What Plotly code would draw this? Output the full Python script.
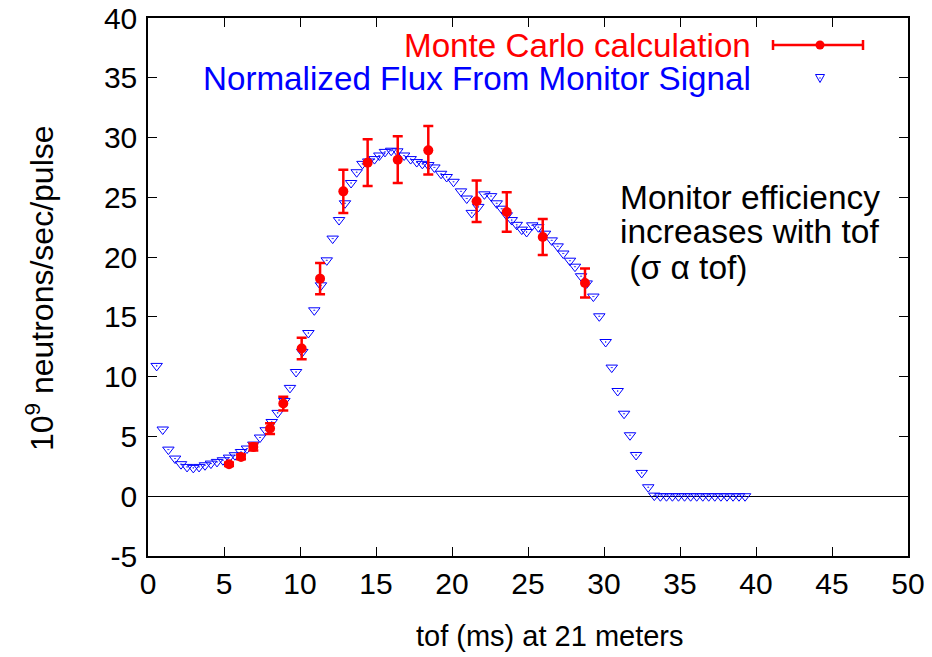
import plotly.graph_objects as go

# Normalized flux derived from the beam monitor signal (10^9 n/s/pulse)
flux_tof = [0.57, 0.97, 1.34, 1.78, 2.17, 2.57, 2.98, 3.36, 3.75, 4.14,
            4.54, 4.93, 5.33, 5.72, 6.12, 6.51, 6.93, 7.37, 7.74, 8.14,
            8.53, 8.97, 9.34, 9.74, 10.15, 10.55, 10.94, 11.38, 11.76, 12.15,
            12.57, 12.96, 13.36, 13.73, 14.11, 14.49, 14.90, 15.22, 15.59, 16.00,
            16.40, 16.85, 17.28, 17.68, 18.05, 18.44, 18.84, 19.28, 19.65, 20.10,
            20.59, 20.97, 21.30, 21.73, 22.13, 22.57, 22.94, 23.27, 23.60, 23.93,
            24.26, 24.59, 24.91, 25.28, 25.68, 26.12, 26.56, 26.95, 27.32, 27.76,
            28.09, 28.49, 28.86, 29.30, 29.69, 30.11, 30.51, 30.90, 31.32, 31.71,
            32.11, 32.48, 32.91, 33.31, 33.71, 34.11, 34.50, 34.90, 35.30, 35.70,
            36.10, 36.50, 36.89, 37.29, 37.69, 38.09, 38.49, 38.88, 39.28]
flux_val = [10.9, 5.58, 3.9, 3.15, 2.68, 2.45, 2.37, 2.45, 2.59, 2.73,
            2.87, 3.01, 3.23, 3.43, 3.70, 3.99, 4.32, 4.91, 5.52, 6.21,
            6.97, 7.97, 9.06, 10.39, 12.07, 13.65, 15.55, 17.64, 19.73, 21.55,
            23.1, 24.5, 26.2, 27.1, 27.8, 28.0, 28.2, 28.5, 28.8, 28.9,
            28.85, 28.5, 28.2, 27.95, 27.8, 27.7, 27.5, 26.97, 26.7, 26.3,
            25.5, 24.9, 23.7, 24.2, 25.25, 25.1, 24.5, 24.05, 23.5, 23.1,
            22.7, 22.3, 22.1, 22.66, 22.5, 21.96, 21.4, 20.9, 20.3, 19.7,
            19.2, 18.4, 17.8, 16.7, 15.05, 12.9, 10.76, 8.8, 6.9, 5.1,
            3.45, 1.95, 0.75, 0.05, 0.0, 0.0, 0.0, 0.0, 0.0, 0.0,
            0.0, 0.0, 0.0, 0.0, 0.0, 0.0, 0.0, 0.0, 0.0]

# Monte Carlo calculation with statistical uncertainty
mc_tof = [5.33, 6.12, 6.93, 8.03, 8.90, 10.11, 11.32, 12.85, 14.45, 16.43,
          18.44, 21.62, 23.60, 25.97, 28.75]
mc_val = [2.68, 3.29, 4.12, 5.66, 7.75, 12.35, 18.2, 25.5, 27.9, 28.15,
          28.93, 24.67, 23.77, 21.68, 17.83]
mc_err = [0.15, 0.2, 0.3, 0.45, 0.58, 0.9, 1.31, 1.8, 1.95, 1.95,
          2.03, 1.74, 1.65, 1.5, 1.21]

x_ticks = [0, 5, 10, 15, 20, 25, 30, 35, 40, 45, 50]
y_ticks = [-5, 0, 5, 10, 15, 20, 25, 30, 35, 40]

FONT = "Liberation Sans, Arial, Helvetica, sans-serif"
RED = "#ff0000"
BLUE = "#0000ff"

fig = go.Figure()

fig.add_trace(go.Scatter(
    x=flux_tof, y=flux_val, mode="markers",
    name="Normalized Flux From Monitor Signal",
    marker=dict(symbol="triangle-down-open-dot", size=10, color=BLUE,
                line=dict(width=1, color=BLUE)),
    showlegend=False,
))

fig.add_trace(go.Scatter(
    x=mc_tof, y=mc_val, mode="markers",
    name="Monte Carlo calculation",
    marker=dict(symbol="circle", size=10, color=RED),
    error_y=dict(type="data", array=mc_err, visible=True, color=RED,
                 thickness=2.5, width=5),
    showlegend=False,
))

W, H = 932, 657
L, R, T, B = 148, 24, 18, 101
pw, ph = W - L - R, H - T - B


def px(xp):
    return (xp - L) / pw


def py(yp):
    return (H - B - yp) / ph


shapes = []
# key sample for the Monte Carlo series: bar with end caps and a dot
ky = py(45)
cap = 5 / ph
shapes.append(dict(type="line", xref="paper", yref="paper", x0=px(773), x1=px(863),
                   y0=ky, y1=ky, line=dict(color=RED, width=2.5)))
for xe in (773, 863):
    shapes.append(dict(type="line", xref="paper", yref="paper", x0=px(xe), x1=px(xe),
                       y0=ky - cap, y1=ky + cap, line=dict(color=RED, width=2.5)))
r = 4.5
shapes.append(dict(type="circle", xref="paper", yref="paper",
                   x0=px(820 - r), x1=px(820 + r), y0=py(45 + r), y1=py(45 - r),
                   fillcolor=RED, line=dict(color=RED, width=0)))
# key sample for the monitor flux: open down-pointing triangle with centre dot
tx, ty = 820, 78
shapes.append(dict(type="path", xref="paper", yref="paper",
                   path=(f"M {px(tx - 4.5)} {py(ty - 3.5)} L {px(tx + 4.5)} {py(ty - 3.5)} "
                         f"L {px(tx)} {py(ty + 4.5)} Z"),
                   line=dict(color=BLUE, width=1)))
shapes.append(dict(type="circle", xref="paper", yref="paper",
                   x0=px(tx - 0.7), x1=px(tx + 0.7), y0=py(ty + 0.7), y1=py(ty - 0.7),
                   fillcolor=BLUE, line=dict(color=BLUE, width=0)))

annotations = [
    dict(text="Monte Carlo calculation", xref="paper", yref="paper",
         x=px(753), y=py(45), xanchor="right", yanchor="middle", showarrow=False,
         font=dict(family=FONT, size=33.2, color=RED)),
    dict(text="Normalized Flux From Monitor Signal", xref="paper", yref="paper",
         x=px(753), y=py(79), xanchor="right", yanchor="middle", showarrow=False,
         font=dict(family=FONT, size=33.2, color=BLUE)),
    # axis titles
    dict(text="tof (ms) at 21 meters", xref="paper", yref="paper",
         x=px(550), y=py(636), xanchor="center", yanchor="middle", showarrow=False,
         font=dict(family=FONT, size=29, color="black")),
    dict(text="10<sup>9</sup> neutrons/sec/pulse", xref="paper", yref="paper",
         x=px(40), y=py(288), xanchor="center", yanchor="middle", showarrow=False,
         textangle=-90, font=dict(family=FONT, size=32, color="black")),
]
for line_txt, yc in (("Monitor efficiency", 197), ("increases with tof", 232),
                     (" (\u03c3 \u03b1 tof)", 267)):
    annotations.append(dict(text=line_txt, xref="paper", yref="paper",
                            x=px(618), y=py(yc), xanchor="left", yanchor="middle",
                            showarrow=False,
                            font=dict(family=FONT, size=33.5, color="black")))

fig.update_layout(
    width=W, height=H,
    margin=dict(l=L, r=R, t=T, b=B, pad=0),
    paper_bgcolor="white", plot_bgcolor="white",
    font=dict(family=FONT, size=30, color="black"),
    shapes=shapes, annotations=annotations,
    showlegend=False,
)

fig.update_xaxes(
    range=[0, 50], tickvals=x_ticks, ticktext=[str(v) for v in x_ticks],
    ticks="inside", ticklen=9, tickwidth=1, tickcolor="black",
    showline=True, linecolor="black", linewidth=1.5, mirror="ticks",
    showgrid=False, zeroline=False, automargin=False,
    tickfont=dict(size=30), ticklabelstandoff=0,
)
fig.update_yaxes(
    range=[-5, 40], tickvals=y_ticks, ticktext=[str(v) for v in y_ticks],
    ticks="inside", ticklen=9, tickwidth=1, tickcolor="black",
    showline=True, linecolor="black", linewidth=1.5, mirror="ticks",
    showgrid=False, zeroline=True, zerolinecolor="black", zerolinewidth=1,
    automargin=False,
    tickfont=dict(size=30), ticklabelstandoff=3,
)

fig.write_html("out.html")
